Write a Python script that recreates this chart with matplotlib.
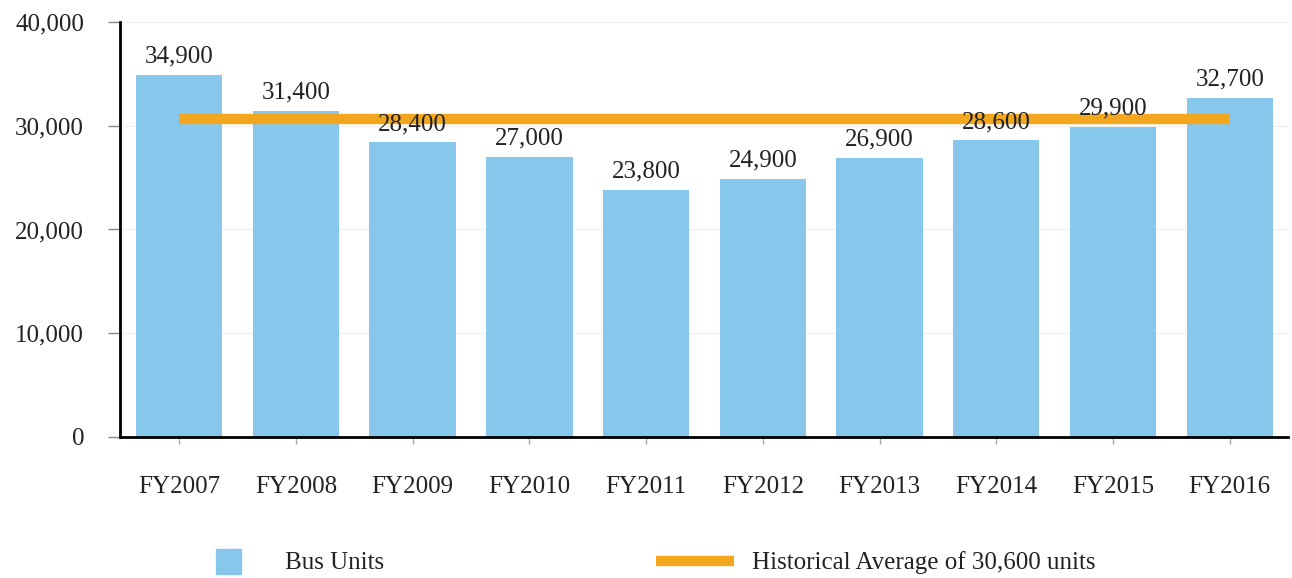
import numpy as np
import matplotlib
matplotlib.use("Agg")
import matplotlib.pyplot as plt
from matplotlib.lines import Line2D

# data
years = ["FY2007", "FY2008", "FY2009", "FY2010", "FY2011",
         "FY2012", "FY2013", "FY2014", "FY2015", "FY2016"]
bus_units = [34900, 31400, 28400, 27000, 23800, 24900, 26900, 28600, 29900, 32700]
hist_avg = 30600
yticks = [0, 10000, 20000, 30000, 40000]

bar_color = "#87C7EC"
avg_color = "#F2A71E"
plt.rcParams["font.family"] = ["Liberation Serif", "DejaVu Serif"]

fig = plt.figure(figsize=(12.92, 5.78), dpi=100)
ax = fig.add_axes([0.093, 0.244, 0.904, 0.718])

x = np.arange(len(years))
ax.bar(x, bus_units, width=0.74, color=bar_color, zorder=2)
ax.plot([x[0], x[-1]], [hist_avg, hist_avg], color=avg_color, lw=7.5,
        solid_capstyle="butt", zorder=3)

for xi, v in zip(x, bus_units):
    ax.text(xi, v + 700, "{:,}".format(v), ha="center", va="bottom",
            fontsize=18, color="#222222", zorder=4)

ax.set_xlim(-0.505, 9.5)
ax.set_ylim(0, 40000)
ax.set_yticks(yticks)
ax.set_yticklabels(["{:,}".format(t) for t in yticks])
ax.set_xticks(x)
ax.set_xticklabels(years)

ax.yaxis.grid(True, color="#f0f0f0", lw=1, zorder=0)
ax.tick_params(axis="y", labelsize=18, length=9, width=1, color="#888888",
               pad=17, labelcolor="#222222")
ax.tick_params(axis="x", labelsize=18, length=5, width=1, color="#aaaaaa",
               pad=23, labelcolor="#222222")
for s in ["top", "right"]:
    ax.spines[s].set_visible(False)
for s in ["left", "bottom"]:
    ax.spines[s].set_linewidth(2)
    ax.spines[s].set_color("black")

handles = [Line2D([], [], marker="s", linestyle="none", markersize=18,
                  color=bar_color),
           Line2D([], [], color=avg_color, lw=7.5, solid_capstyle="butt")]
labels = ["Bus Units", "Historical Average of 30,600 units"]
fig.legend(handles, labels, loc="center left", bbox_to_anchor=(0.129, 0.026),
           ncol=2, frameon=False, fontsize=18, handlelength=3.1,
           handletextpad=0.72, columnspacing=10.9, labelcolor="#222222")

fig.savefig("out.png", dpi=100)
